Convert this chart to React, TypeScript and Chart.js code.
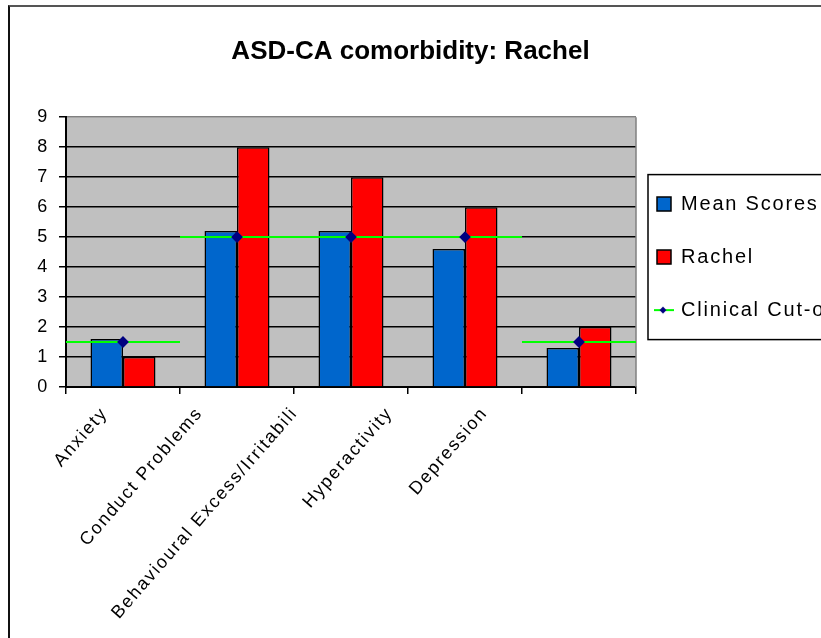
import React, { useEffect, useRef } from 'react';
import { Chart, registerables } from 'chart.js';

Chart.register(...registerables);

const chartTitle = 'ASD-CA comorbidity: Rachel';
const categories = ['Anxiety', 'Conduct Problems', 'Behavioural Excess/Irritability', 'Hyperactivity', 'Depression'];
const axisLabels = ['Anxiety', 'Conduct Problems', 'Behavioural Excess/Irritabili', 'Hyperactivity', 'Depression', ''];
const seriesNames = ['Mean Scores', 'Rachel', 'Clinical Cut-off'];
const meanScores = [1.6, 5.2, 5.2, 4.6, 1.3];
const rachelScores = [1, 8, 7, 6, 2];
const clinicalCutoff = [1.5, 5, 5, 5, 1.5];
const yMin = 0;
const yMax = 9;
const yStep = 1;

const FONT = "'Liberation Sans', Arial, sans-serif";
const BLUE = '#0066CC';
const RED = '#FF0000';
const GREEN = '#00FF00';
const NAVY = '#000080';
const PLOT_BG = '#C0C0C0';
const SPACING = '1.8px';

function makeCutoffIcon() {
  const c = document.createElement('canvas');
  c.width = 20;
  c.height = 10;
  const g = c.getContext('2d')!;
  g.strokeStyle = GREEN;
  g.lineWidth = 2;
  g.beginPath();
  g.moveTo(0, 5);
  g.lineTo(20, 5);
  g.stroke();
  g.fillStyle = NAVY;
  g.beginPath();
  g.moveTo(9, 1.5);
  g.lineTo(12.5, 5);
  g.lineTo(9, 8.5);
  g.lineTo(5.5, 5);
  g.closePath();
  g.fill();
  return c;
}

export default function App() {
  const ref = useRef<HTMLCanvasElement | null>(null);

  useEffect(() => {
    const canvas = ref.current;
    if (!canvas) return;
    const icon = makeCutoffIcon();

    const spacingPlugin = {
      id: 'spacing',
      afterInit(chart: any) {
        const tb = chart.titleBlock;
        if (tb) {
          const orig = tb.draw.bind(tb);
          tb.draw = () => {
            const ctx = chart.ctx as any;
            const prev = ctx.letterSpacing;
            ctx.letterSpacing = '0px';
            orig();
            ctx.letterSpacing = prev;
          };
        }
      },
      beforeUpdate(chart: any) {
        (chart.ctx as any).letterSpacing = SPACING;
      },
      afterLayout(chart: any) {
        const lg = chart.legend;
        const a = chart.chartArea;
        if (lg) {
          const h = lg.bottom - lg.top;
          const mid = (a.top + a.bottom) / 2 + 5;
          lg.left -= 12;
          lg.width += 12;
          lg.top = mid - h / 2;
          lg.bottom = mid + h / 2;
        }
      },
      beforeDraw(chart: any) {
        const { ctx, chartArea: a } = chart;
        (ctx as any).letterSpacing = SPACING;
        ctx.save();
        ctx.fillStyle = PLOT_BG;
        ctx.fillRect(a.left, a.top, a.right - a.left, a.bottom - a.top);
        ctx.restore();
      },
      beforeDatasetsDraw(chart: any) {
        const { ctx, chartArea: a } = chart;
        ctx.save();
        ctx.strokeStyle = '#808080';
        ctx.lineWidth = 1.5;
        ctx.beginPath();
        ctx.moveTo(a.right, a.top);
        ctx.lineTo(a.right, a.bottom);
        ctx.stroke();
        ctx.restore();
      },
      beforeDatasetDraw(chart: any, args: any) {
        if (args.index !== 2) return;
        const { ctx } = chart;
        const xs = chart.scales.x;
        const ys = chart.scales.y;
        const half = (xs.getPixelForValue(1) - xs.getPixelForValue(0)) / 2;
        ctx.save();
        ctx.strokeStyle = GREEN;
        ctx.lineWidth = 2;
        clinicalCutoff.forEach((v, i) => {
          const cx = xs.getPixelForValue(i);
          const y = ys.getPixelForValue(v);
          ctx.beginPath();
          ctx.moveTo(cx - half, y);
          ctx.lineTo(cx + half, y);
          ctx.stroke();
        });
        ctx.restore();
      },
      afterDraw(chart: any) {
        const { ctx, chartArea: a } = chart;
        const lg = chart.legend;
        const mid = (lg.top + lg.bottom) / 2;
        ctx.save();
        ctx.strokeStyle = '#000';
        ctx.lineWidth = 1.5;
        ctx.strokeRect(a.right + 12, mid - 82.5, 300, 165);
        ctx.restore();
      },
    };

    const chart = new Chart(canvas, {
      type: 'bar',
      data: {
        labels: categories,
        datasets: [
          {
            type: 'bar',
            label: seriesNames[0],
            data: meanScores,
            backgroundColor: BLUE,
            borderColor: '#000',
            borderWidth: 1.5,
            categoryPercentage: 0.57,
            barPercentage: 1,
            order: 1,
          },
          {
            type: 'bar',
            label: seriesNames[1],
            data: rachelScores,
            backgroundColor: RED,
            borderColor: '#000',
            borderWidth: 1.5,
            categoryPercentage: 0.57,
            barPercentage: 1,
            order: 1,
          },
          {
            type: 'line',
            label: seriesNames[2],
            data: clinicalCutoff,
            showLine: false,
            pointStyle: 'rectRot',
            pointRadius: 4.5,
            pointBackgroundColor: NAVY,
            pointBorderColor: NAVY,
            backgroundColor: GREEN,
            borderColor: GREEN,
            borderWidth: 2,
            order: 0,
          } as any,
        ],
      },
      options: {
        responsive: false,
        animation: false,
        layout: { padding: 0 },
        plugins: {
          title: {
            display: true,
            text: chartTitle,
            color: '#000',
            font: { family: FONT, size: 26, weight: 'bold' },
            padding: { top: 36, bottom: 50 },
          },
          legend: {
            position: 'right',
            maxWidth: 185,
            labels: {
              usePointStyle: true,
              boxWidth: 14,
              boxHeight: 14,
              padding: 33,
              color: '#000',
              font: { family: FONT, size: 20 },
              generateLabels(ch: any) {
                const items = Chart.defaults.plugins.legend.labels.generateLabels(ch);
                items.sort((p: any, q: any) => p.datasetIndex - q.datasetIndex);
                return items.map((it: any) => {
                  if (it.datasetIndex < 2) {
                    it.pointStyle = 'rect';
                    it.strokeStyle = '#000';
                    it.lineWidth = 1.5;
                  } else {
                    it.pointStyle = icon;
                  }
                  return it;
                });
              },
            },
          },
          tooltip: { enabled: false },
        },
        scales: {
          x: {
            type: 'category',
            position: 'bottom',
            weight: 0,
            offset: true,
            ticks: { display: false },
            grid: {
              display: true,
              drawOnChartArea: false,
              drawTicks: true,
              tickLength: 7,
              color: '#000',
              lineWidth: 1.5,
              offset: true,
            },
            border: { display: true, color: '#000', width: 2 },
            afterFit: (s: any) => {
              s.height = 8;
            },
          },
          x2: {
            type: 'category',
            position: 'bottom',
            weight: 1,
            labels: axisLabels,
            offset: true,
            grid: { display: false, drawTicks: false },
            border: { display: false },
            ticks: {
              autoSkip: false,
              minRotation: 49,
              maxRotation: 49,
              padding: 8,
              labelOffset: -9,
              color: '#000',
              font: { family: FONT, size: 18 },
            },
            afterFit: (s: any) => {
              s.height = 243;
            },
          },
          y: {
            type: 'linear',
            position: 'left',
            min: yMin,
            max: yMax,
            ticks: {
              stepSize: yStep,
              padding: 10,
              color: '#000',
              font: { family: FONT, size: 18 },
            },
            grid: {
              color: (c: any) => (c.tick && c.tick.value === yMax ? '#808080' : '#000'),
              lineWidth: 1.5,
              drawTicks: true,
              tickLength: 7,
              tickColor: '#000',
            },
            border: { display: true, color: '#000', width: 2 },
            afterFit: (s: any) => {
              s.width = 66;
            },
          },
        },
      } as any,
      plugins: [spacingPlugin],
    });

    return () => {
      chart.destroy();
    };
  }, []);

  return (
    <div
      style={{
        position: 'fixed',
        left: 0,
        top: 0,
        width: 821,
        height: 638,
        overflow: 'hidden',
        background: '#fff',
      }}
    >
      <div
        style={{
          position: 'absolute',
          left: 8,
          top: 5,
          width: 900,
          height: 700,
          borderLeft: '2px solid #111',
          borderTop: '2px solid #555',
        }}
      />
      <canvas
        ref={ref}
        width={821}
        height={638}
        style={{ position: 'absolute', left: 0, top: 0, display: 'block' }}
      />
    </div>
  );
}
